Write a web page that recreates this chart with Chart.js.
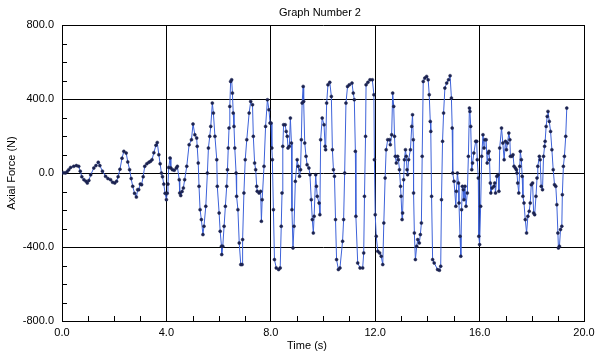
<!DOCTYPE html>
<html>
<head>
<meta charset="utf-8">
<title>Graph Number 2</title>
<script src="https://cdn.jsdelivr.net/npm/chart.js@4.4.1/dist/chart.umd.min.js"></script>
<style>
  html, body { margin: 0; padding: 0; background: #fff; }
  #chart { display: block; }
</style>
</head>
<body>
<canvas id="chart" width="600" height="361"></canvas>
<script>
// time samples (s)
const timeS = [
  0.00, 0.06, 0.13, 0.20, 0.26, 0.33, 0.45, 0.55, 0.64, 0.70, 0.76, 0.84, 0.92, 0.97,
  1.03, 1.10, 1.22, 1.30, 1.39, 1.45, 1.55, 1.67, 1.76, 1.86, 1.94, 2.02, 2.09, 2.15,
  2.22, 2.30, 2.37, 2.46, 2.52, 2.59, 2.65, 2.71, 2.78, 2.85, 2.90, 2.94, 3.00, 3.05,
  3.11, 3.17, 3.25, 3.33, 3.39, 3.45, 3.52, 3.60, 3.65, 3.71, 3.76, 3.81, 3.85, 3.90,
  3.95, 4.00, 4.03, 4.06, 4.09, 4.14, 4.17, 4.23, 4.30, 4.38, 4.42, 4.49, 4.51, 4.55,
  4.60, 4.65, 4.70, 4.78, 4.87, 4.96, 5.02, 5.09, 5.16, 5.18, 5.22, 5.25, 5.29, 5.34,
  5.40, 5.44, 5.51, 5.57, 5.61, 5.66, 5.70, 5.76, 5.80, 5.86, 5.93, 5.95, 6.02, 6.06,
  6.11, 6.12, 6.16, 6.21, 6.26, 6.31, 6.34, 6.37, 6.40, 6.43, 6.46, 6.50, 6.53, 6.56,
  6.59, 6.62, 6.67, 6.69, 6.74, 6.79, 6.85, 6.90, 6.92, 6.97, 7.02, 7.08, 7.17, 7.23,
  7.30, 7.33, 7.38, 7.42, 7.46, 7.48, 7.55, 7.61, 7.64, 7.67, 7.74, 7.80, 7.87, 7.93,
  7.97, 8.01, 8.04, 8.06, 8.10, 8.14, 8.21, 8.30, 8.36, 8.40, 8.43, 8.46, 8.49, 8.55,
  8.59, 8.63, 8.66, 8.71, 8.75, 8.79, 8.81, 8.85, 8.89, 8.94, 9.01, 9.05, 9.10, 9.14,
  9.17, 9.20, 9.24, 9.26, 9.30, 9.35, 9.39, 9.46, 9.50, 9.55, 9.59, 9.63, 9.66, 9.72,
  9.75, 9.78, 9.85, 9.88, 9.91, 9.97, 10.04, 10.08, 10.10, 10.14, 10.19, 10.26, 10.32, 10.36,
  10.40, 10.44, 10.48, 10.52, 10.59, 10.65, 10.75, 10.79, 10.83, 10.88, 10.94, 11.01, 11.11, 11.16,
  11.20, 11.24, 11.26, 11.33, 11.42, 11.52, 11.56, 11.59, 11.63, 11.65, 11.72, 11.80, 11.89, 11.95,
  11.97, 12.00, 12.04, 12.10, 12.17, 12.23, 12.29, 12.33, 12.38, 12.42, 12.48, 12.55, 12.58, 12.63,
  12.67, 12.71, 12.74, 12.77, 12.81, 12.86, 12.89, 12.93, 12.97, 12.99, 13.03, 13.05, 13.09, 13.12,
  13.16, 13.19, 13.22, 13.24, 13.28, 13.35, 13.40, 13.43, 13.46, 13.47, 13.50, 13.54, 13.59, 13.63,
  13.69, 13.73, 13.77, 13.80, 13.84, 13.90, 13.97, 14.03, 14.07, 14.11, 14.13, 14.16, 14.20, 14.26,
  14.39, 14.46, 14.51, 14.54, 14.58, 14.62, 14.67, 14.74, 14.81, 14.87, 14.92, 14.95, 14.97, 15.02,
  15.09, 15.11, 15.15, 15.19, 15.21, 15.25, 15.28, 15.31, 15.34, 15.38, 15.40, 15.44, 15.48, 15.53,
  15.57, 15.61, 15.63, 15.66, 15.70, 15.73, 15.78, 15.85, 15.89, 15.91, 15.95, 15.97, 16.00, 16.04,
  16.08, 16.13, 16.17, 16.20, 16.25, 16.29, 16.33, 16.36, 16.38, 16.41, 16.43, 16.48, 16.55, 16.58,
  16.61, 16.66, 16.71, 16.74, 16.77, 16.84, 16.89, 16.94, 16.99, 17.03, 17.07, 17.12, 17.16, 17.18,
  17.24, 17.28, 17.32, 17.37, 17.41, 17.43, 17.46, 17.50, 17.54, 17.56, 17.60, 17.63, 17.66, 17.70,
  17.75, 17.80, 17.85, 17.90, 17.94, 17.98, 18.03, 18.07, 18.11, 18.16, 18.20, 18.23, 18.29, 18.32,
  18.36, 18.41, 18.45, 18.49, 18.51, 18.55, 18.59, 18.62, 18.67, 18.72, 18.77, 18.82, 18.87, 18.92,
  18.96, 19.00, 19.02, 19.06, 19.10, 19.15, 19.17, 19.21, 19.25, 19.30, 19.34
];

// axial force (N) at each sample
const forceN = [
  0, 2, 0, 8, 18, 30, 36, 40, 36, 10, -20, -36, -45, -54,
  -40, -10, 27, 40, 58, 40, 10, -18, -30, -36, -50, -54, -45, -20,
  20, 80, 117, 108, 60, 18, -30, -72, -110, -130, -90, -90, -60, -63,
  -20, 36, 50, 58, 63, 72, 110, 150, 165, 99, 50, 0, -20, -60,
  -110, -144, -110, -60, 30, 81, 27, 18, 15, 27, 36, -36, -108, -122,
  -100, -81, -36, 36, 153, 180, 265, 207, 189, 144, 54, -72, -198, -252,
  -333, -288, -180, 0, 135, 198, 252, 378, 324, 198, 72, -72, -216, -315,
  -396, -441, -396, -288, -180, -72, 18, 135, 243, 360, 495, 504, 432, 324,
  252, 135, 0, -126, -198, -378, -495, -495, -360, -108, 72, 180, 324, 387,
  369, 198, 54, 18, -72, -99, -108, -99, -261, -144, 36, 252, 396, 342,
  270, 270, 135, 72, -198, -468, -513, -522, -513, -288, -108, 144, 261, 261,
  225, 198, 135, 144, 297, 162, -198, -405, -288, -45, 72, 36, -18, 18,
  180, 378, 468, 387, 162, 90, 45, 27, -9, -144, -252, -324, -234, -9,
  -72, -126, -162, -225, 180, 297, 261, 144, 126, 378, 477, 490, 414, 126,
  18, -18, -252, -468, -522, -513, -369, -252, 0, 378, 468, 477, 486, 432,
  396, 117, -234, -486, -513, -513, -432, -126, 198, 477, 490, 504, 504, 423,
  72, -225, -342, -423, -432, -450, -495, -270, -27, 126, 180, 180, 153, 207,
  432, 360, 198, 90, 54, 90, 72, 18, -72, -126, -252, -216, -36, 72,
  126, 90, 18, -9, 72, 126, 252, 315, 180, -108, -324, -468, -396, -360,
  -378, -333, -270, 90, 495, 513, 522, 504, 423, 279, 225, -126, -468, -486,
  -522, -526, -504, -144, 171, 324, 459, 486, 504, 526, 405, 243, 0, -45,
  -180, -99, 0, -54, -162, -342, -450, -198, -72, -90, -144, -72, -180, -108,
  90, 351, 333, 252, 18, 54, 108, 171, 171, 72, -27, -342, -387, -180,
  90, 207, 135, 180, 180, 54, 108, 117, 72, -54, -108, -81, -72, -54,
  -108, -18, -9, -99, 135, 243, 162, 72, 171, 126, 162, 216, 180, 90,
  90, 99, 36, 27, 18, 0, -54, -108, 36, 117, 72, -18, -126, -162,
  -252, -324, -234, -207, -162, -63, -54, -216, -225, -126, -27, 36, 90, 72,
  -72, -90, 90, 144, 171, 252, 306, 333, 279, 225, 126, 18, -63, -72,
  -171, -324, -405, -396, -306, -288, -117, 36, 90, 198, 351
];

// labelled ticks (with full grid lines); the rest are short minor ticks
const xLabelTicks = [0, 4, 8, 12, 16, 20];
const yLabelTicks = [-800, -400, 0, 400, 800];

const FONT = '"Liberation Sans", Arial, sans-serif';

const points = timeS.map((t, i) => ({ x: t, y: forceN[i] }));

// minor tick marks + title + x axis title
const extras = {
  id: 'extras',
  afterDraw(chart) {
    const { ctx, chartArea: a, scales } = chart;
    ctx.save();
    ctx.strokeStyle = '#000';
    ctx.lineWidth = 1;
    ctx.beginPath();
    scales.y.ticks.forEach(t => {
      if (yLabelTicks.includes(t.value)) return;
      const p = Math.round(scales.y.getPixelForValue(t.value)) + 0.5;
      ctx.moveTo(a.left, p);
      ctx.lineTo(a.left + 5, p);
    });
    scales.x.ticks.forEach(t => {
      if (xLabelTicks.includes(t.value)) return;
      const p = Math.round(scales.x.getPixelForValue(t.value)) + 0.5;
      ctx.moveTo(p, a.bottom);
      ctx.lineTo(p, a.bottom - 5);
    });
    ctx.stroke();

    ctx.fillStyle = '#000';
    ctx.font = '11px ' + FONT;
    ctx.textAlign = 'center';
    ctx.textBaseline = 'middle';
    ctx.fillText('Graph Number 2', (a.left + a.right) / 2 - 3, 13);
    ctx.fillText('Time (s)', (a.left + a.right) / 2 - 16, 346);
    ctx.restore();
  }
};

new Chart(document.getElementById('chart'), {
  type: 'scatter',
  data: {
    datasets: [{
      data: points,
      showLine: true,
      borderColor: '#3d62d9',
      borderWidth: 1,
      tension: 0,
      pointRadius: 1.5,
      pointBackgroundColor: '#1b2250',
      pointBorderColor: '#1b2250',
      pointBorderWidth: 0.5
    }]
  },
  options: {
    responsive: false,
    animation: false,
    events: [],
    layout: { padding: { top: 25, right: 16, left: 0, bottom: 0 } },
    plugins: {
      legend: { display: false },
      tooltip: { enabled: false }
    },
    scales: {
      x: {
        type: 'linear',
        min: 0,
        max: 20,
        afterFit: s => { s.height = 40; },
        border: { display: true, color: '#000', width: 1 },
        grid: {
          drawTicks: false,
          lineWidth: 1,
          color: c => xLabelTicks.includes(c.tick.value) ? '#000' : 'rgba(0,0,0,0)'
        },
        ticks: {
          stepSize: 1,
          autoSkip: false,
          maxRotation: 0,
          padding: 5,
          color: '#000',
          font: { family: FONT, size: 11 },
          callback: v => xLabelTicks.includes(v) ? v.toFixed(1) : ''
        }
      },
      y: {
        type: 'linear',
        min: -800,
        max: 800,
        afterFit: s => { s.width = 62; },
        border: { display: true, color: '#000', width: 1 },
        grid: {
          drawTicks: false,
          lineWidth: 1,
          color: c => yLabelTicks.includes(c.tick.value) ? '#000' : 'rgba(0,0,0,0)'
        },
        ticks: {
          stepSize: 100,
          autoSkip: false,
          padding: 8,
          color: '#000',
          font: { family: FONT, size: 11 },
          callback: v => yLabelTicks.includes(v) ? v.toFixed(1) : ''
        },
        title: {
          display: true,
          text: 'Axial Force (N)',
          color: '#000',
          font: { family: FONT, size: 11 },
          padding: { top: 5, bottom: 0 }
        }
      }
    }
  },
  plugins: [extras]
});
</script>
</body>
</html>
